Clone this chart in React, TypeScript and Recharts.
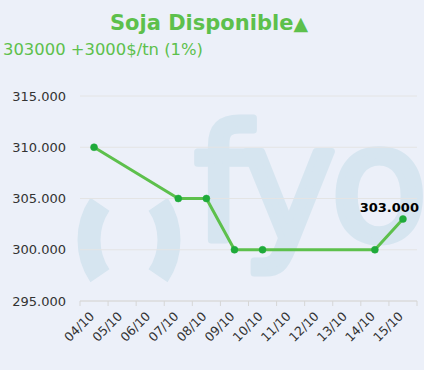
import React from 'react';
import { LineChart, Line, XAxis, YAxis, CartesianGrid } from 'recharts';

const categories = ['04/10', '05/10', '06/10', '07/10', '08/10', '09/10', '10/10', '11/10', '12/10', '13/10', '14/10', '15/10'];
const prices: (number | null)[] = [310000, null, null, 305000, 305000, 300000, 300000, null, null, null, 300000, 303000];
const yTicks = [295000, 300000, 305000, 310000, 315000];
const titleText = 'Soja Disponible';
const subtitleText = '303000 +3000$/tn (1%)';

const data = categories.map((c, i) => ({ date: c, price: prices[i] }));

const W = 424;
const H = 370;
const M = { top: 96, right: 7, bottom: 0, left: 0 };
const Y_W = 80;
const X_H = 69;
const PLOT_W = W - M.left - M.right - Y_W;
const BAND = PLOT_W / categories.length;

const GREEN = '#5dc04c';
const DOT = '#1faa3a';
const WM = '#d6e5f0';
const BG = '#ecf0f9';
const FONT = '"DejaVu Sans", Verdana, sans-serif';

const fmt = (v: number) => String(v).replace(/\B(?=(\d{3})+(?!\d))/g, '.');

const XTick = (props: any) => {
  const { x, y, payload, index } = props;
  const last = index === categories.length - 1;
  const tx = x + 1;
  const ty = y + 16;
  return (
    <g>
      <line x1={x - BAND / 2} x2={x - BAND / 2} y1={y} y2={y + 5} stroke="#d6d6d6" />
      {last && <line x1={x + BAND / 2} x2={x + BAND / 2} y1={y} y2={y + 5} stroke="#d6d6d6" />}
      <text
        x={tx}
        y={ty}
        textAnchor="end"
        transform={`rotate(-45, ${tx}, ${ty})`}
        fontSize={12.5}
        fill="#333"
        fontFamily={FONT}
      >
        {payload.value}
      </text>
    </g>
  );
};

const LastLabel = (props: any) => {
  const { x, y, value, index } = props;
  if (index !== prices.length - 1 || value == null) return null;
  return (
    <text x={x + 16} y={y - 7} textAnchor="end" fontSize={13} fontWeight="bold" fill="#000" fontFamily={FONT}>
      {fmt(value)}
    </text>
  );
};

const arc = (cx: number, cy: number, r: number, a0: number, a1: number) => {
  const p = (a: number) => [cx + r * Math.cos((a * Math.PI) / 180), cy + r * Math.sin((a * Math.PI) / 180)];
  const [x0, y0] = p(a0);
  const [x1, y1] = p(a1);
  return `M ${x0} ${y0} A ${r} ${r} 0 0 ${a1 > a0 ? 1 : 0} ${x1} ${y1}`;
};

// Watermark logo, drawn as an image (as in the original)
const logoSvg =
  `<svg xmlns="http://www.w3.org/2000/svg" width="${W}" height="${H}">` +
  `<path d="${arc(153, 240, 64, 146, 214)}" stroke="${WM}" stroke-width="23" fill="none"/>` +
  `<path d="${arc(105, 240, 64, 34, -34)}" stroke="${WM}" stroke-width="23" fill="none"/>` +
  `<text x="194" y="240" font-size="160" font-family="DejaVu Sans, sans-serif" fill="${WM}" stroke="${WM}" stroke-width="7" stroke-linejoin="round" letter-spacing="-6">fyo</text>` +
  `</svg>`;
const logoUri = 'data:image/svg+xml;charset=utf-8,' + encodeURIComponent(logoSvg);

export default function App() {
  return (
    <div style={{ position: 'absolute', left: 0, top: 0, width: W, height: H, background: BG, overflow: 'hidden' }}>
      <img src={logoUri} width={W} height={H} style={{ position: 'absolute', left: 0, top: 0 }} alt="" />
      <svg width={W} height={H} style={{ position: 'absolute', left: 0, top: 0 }}>
        <text x={209} y={30} textAnchor="middle" fontSize={21} fontWeight="bold" fill={GREEN} fontFamily={FONT}>
          {titleText}
          <tspan fontSize={19}>▲</tspan>
        </text>
        <text x={3} y={55} fontSize={16.4} fill={GREEN} fontFamily={FONT}>
          {subtitleText}
        </text>
      </svg>
      <div style={{ position: 'absolute', left: 0, top: 0 }}>
        <LineChart width={W} height={H} data={data} margin={M}>
          <CartesianGrid vertical={false} stroke="#e4e4e4" />
          <XAxis
            dataKey="date"
            interval={0}
            height={X_H}
            padding={{ left: BAND / 2, right: BAND / 2 }}
            tickLine={false}
            tickSize={0}
            tickMargin={0}
            axisLine={{ stroke: '#d6d6d6' }}
            tick={<XTick />}
          />
          <YAxis
            width={Y_W}
            domain={[295000, 315000]}
            ticks={yTicks}
            tickFormatter={fmt}
            axisLine={false}
            tickLine={false}
            tickSize={0}
            tickMargin={14}
            tick={{ fontSize: 13, fill: '#333', fontFamily: FONT }}
          />
          <Line
            type="linear"
            dataKey="price"
            stroke={GREEN}
            strokeWidth={3}
            connectNulls
            isAnimationActive={false}
            dot={{ r: 3.5, fill: DOT, stroke: DOT, strokeWidth: 0.5 }}
            activeDot={false}
            label={<LastLabel />}
          />
        </LineChart>
      </div>
    </div>
  );
}
